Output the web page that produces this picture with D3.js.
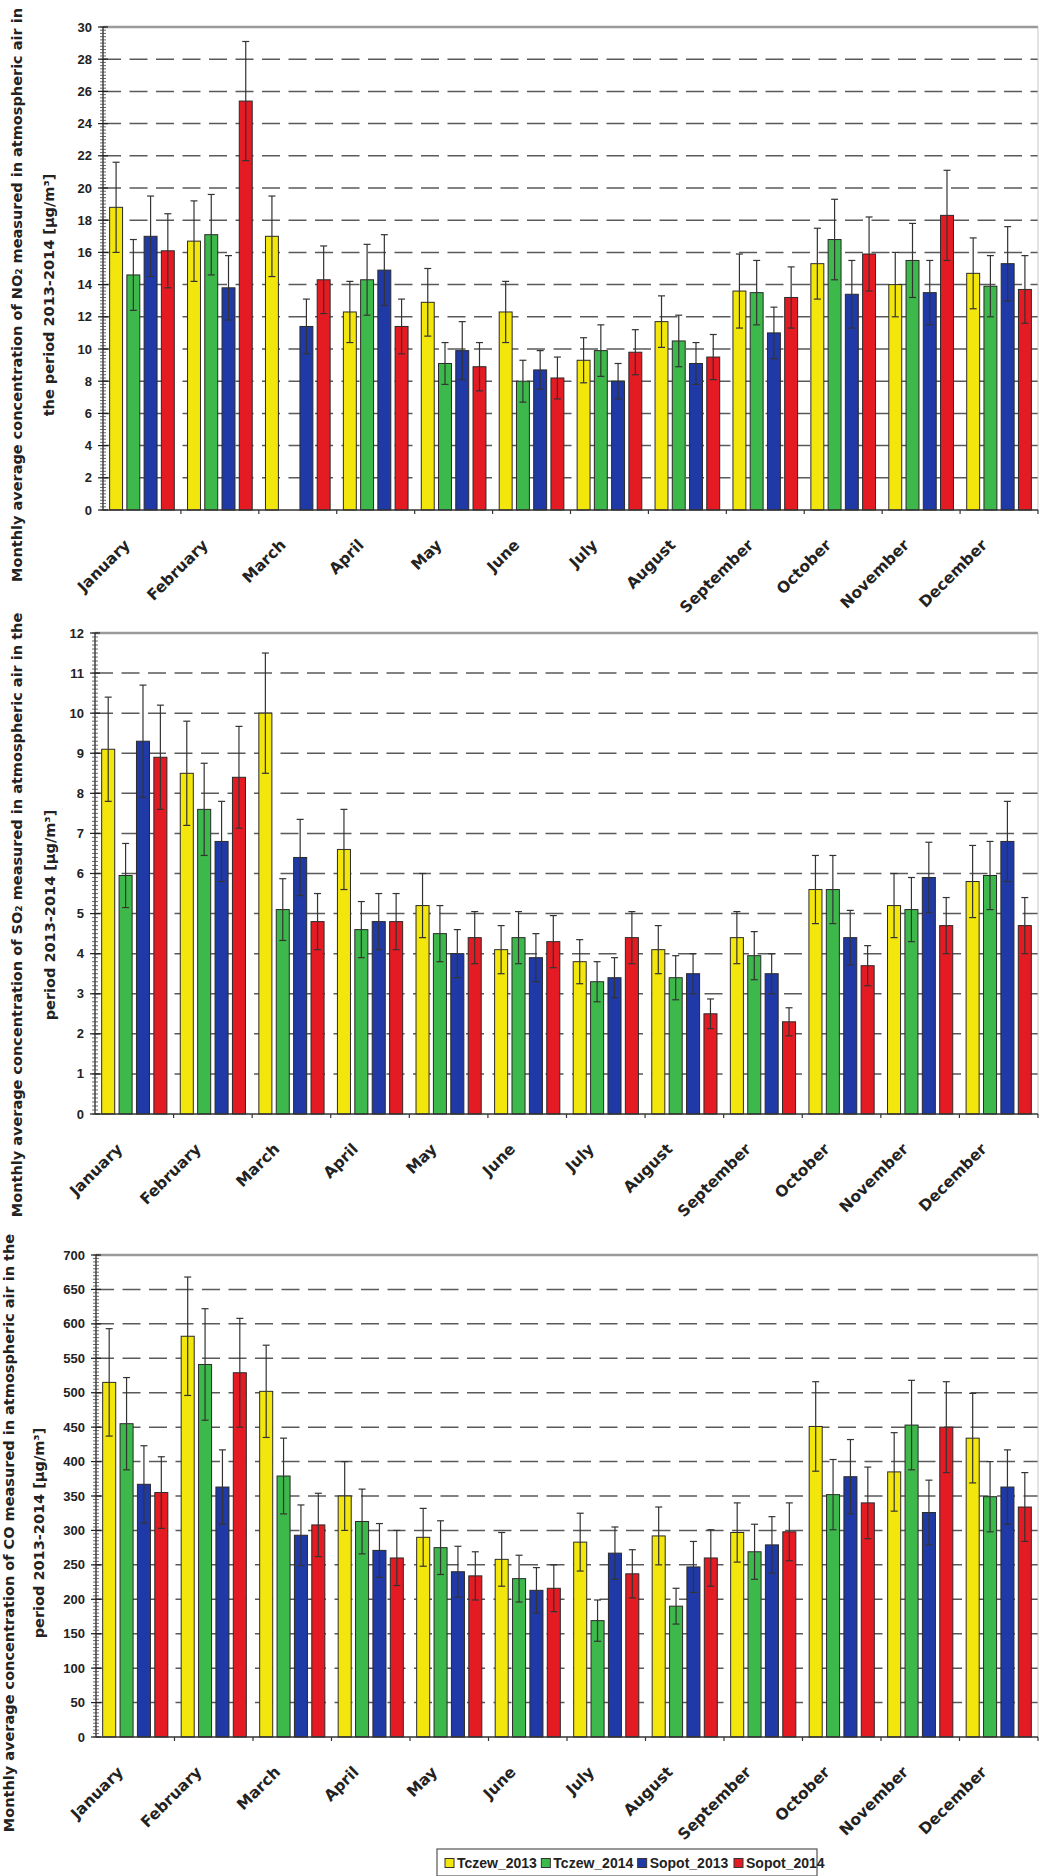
<!DOCTYPE html>
<meta charset="utf-8">
<style>
    body { margin: 0; background: #fff; }
    svg { display: block; font-family: "Liberation Sans", Arial, sans-serif; }
    .tick-label { font-size: 13px; font-weight: bold; fill: #222; }
    .month-label { font-family: "DejaVu Sans", sans-serif; font-size: 15.5px; font-weight: bold; fill: #222; }
    .y-title { font-family: "DejaVu Sans", sans-serif; font-size: 14.5px; font-weight: bold; fill: #222; }
    .legend-text { font-size: 14px; font-weight: bold; fill: #222; }
</style>
<body>
<svg id="chart" width="1040" height="1876"></svg>
<script src="https://cdn.jsdelivr.net/npm/d3@7"></script>
<script>
    // months + series
    var months = ["January", "February", "March", "April", "May", "June", "July",
        "August", "September", "October", "November", "December"];
    var seriesNames = ["Tczew_2013", "Tczew_2014", "Sopot_2013", "Sopot_2014"];
    var seriesColors = ["#f3e60c", "#3db84a", "#1f3aa6", "#e41b23"];

    // NO2 monthly means and error bars (one array per series)
    var no2Mean = [
        [18.8, 16.7, 17.0, 12.3, 12.9, 12.3, 9.3, 11.7, 13.6, 15.3, 14.0, 14.7],
        [14.6, 17.1, null, 14.3, 9.1, 8.0, 9.9, 10.5, 13.5, 16.8, 15.5, 13.9],
        [17.0, 13.8, 11.4, 14.9, 9.9, 8.7, 8.0, 9.1, 11.0, 13.4, 13.5, 15.3],
        [16.1, 25.4, 14.3, 11.4, 8.9, 8.2, 9.8, 9.5, 13.2, 15.9, 18.3, 13.7]
    ];
    var no2Err = [
        [2.8, 2.5, 2.5, 1.9, 2.1, 1.9, 1.4, 1.6, 2.3, 2.2, 2.0, 2.2],
        [2.2, 2.5, null, 2.2, 1.3, 1.3, 1.6, 1.6, 2.0, 2.5, 2.3, 1.9],
        [2.5, 2.0, 1.7, 2.2, 1.8, 1.2, 1.1, 1.3, 1.6, 2.1, 2.0, 2.3],
        [2.3, 3.7, 2.1, 1.7, 1.5, 1.3, 1.4, 1.4, 1.9, 2.3, 2.8, 2.1]
    ];

    // SO2
    var so2Mean = [
        [9.1, 8.5, 10.0, 6.6, 5.2, 4.1, 3.8, 4.1, 4.4, 5.6, 5.2, 5.8],
        [5.95, 7.6, 5.1, 4.6, 4.5, 4.4, 3.3, 3.4, 3.95, 5.6, 5.1, 5.95],
        [9.3, 6.8, 6.4, 4.8, 4.0, 3.9, 3.4, 3.5, 3.5, 4.4, 5.9, 6.8],
        [8.9, 8.4, 4.8, 4.8, 4.4, 4.3, 4.4, 2.5, 2.3, 3.7, 4.7, 4.7]
    ];
    var so2Err = [
        [1.3, 1.3, 1.5, 1.0, 0.8, 0.6, 0.55, 0.6, 0.65, 0.85, 0.8, 0.9],
        [0.8, 1.15, 0.77, 0.7, 0.7, 0.65, 0.5, 0.55, 0.6, 0.85, 0.8, 0.85],
        [1.4, 1.0, 0.95, 0.7, 0.6, 0.6, 0.5, 0.5, 0.5, 0.68, 0.88, 1.0],
        [1.3, 1.27, 0.7, 0.7, 0.65, 0.65, 0.65, 0.37, 0.35, 0.5, 0.7, 0.7]
    ];

    // CO
    var coMean = [
        [515, 582, 502, 350, 290, 258, 283, 292, 297, 451, 385, 434],
        [455, 541, 379, 313, 275, 230, 169, 190, 269, 352, 453, 349],
        [367, 363, 293, 271, 240, 213, 267, 247, 279, 378, 326, 363],
        [355, 529, 308, 260, 234, 216, 237, 260, 298, 340, 450, 334]
    ];
    var coErr = [
        [78, 86, 67, 50, 42, 39, 42, 42, 43, 65, 57, 65],
        [67, 81, 55, 47, 39, 34, 30, 26, 40, 51, 65, 51],
        [56, 54, 44, 39, 37, 33, 38, 37, 41, 54, 47, 54],
        [52, 79, 46, 40, 35, 34, 35, 41, 42, 52, 66, 50]
    ];

    var panels = [
        { mean: no2Mean, err: no2Err, max: 30, step: 2, minor: 0.2, left: 103, top: 27, bottom: 510,
          title: ["Monthly average concentration of NO\u2082 measured in atmospheric air in",
                  "the period 2013-2014 [\u03bcg/m\u00b3]"], tx: [17, 49], ty: 295 },
        { mean: so2Mean, err: so2Err, max: 12, step: 1, minor: 0.1, left: 95, top: 633, bottom: 1114,
          title: ["Monthly average concentration of SO\u2082 measured in atmospheric air in the",
                  "period 2013-2014 [\u03bcg/m\u00b3]"], tx: [17, 50], ty: 915 },
        { mean: coMean, err: coErr, max: 700, step: 50, minor: 5, left: 96, top: 1255, bottom: 1737,
          title: ["Monthly average concentration of CO measured in atmospheric air in the",
                  "period 2013-2014 [\u03bcg/m\u00b3]"], tx: [9, 39], ty: 1533 }
    ];

    var right = 1038;
    var svg = d3.select("#chart");

    panels.forEach(function (p) {
        var g = svg.append("g");
        var x0 = d3.scaleBand().domain(months).range([p.left, right])
            .paddingInner(0.17).paddingOuter(0.085);
        var x1 = d3.scaleBand().domain(d3.range(4)).range([0, x0.bandwidth()])
            .paddingInner(0.25).paddingOuter(0);
        var y = d3.scaleLinear().domain([0, p.max]).range([p.bottom, p.top]);
        var majors = d3.range(0, p.max + p.step / 2, p.step);
        var minors = d3.range(0, p.max + p.minor / 2, p.minor);

        // dashed grid
        g.selectAll(".grid").data(majors.filter(function (v) { return v > 0 && v < p.max; }))
            .enter().append("line")
            .attr("x1", p.left).attr("x2", right)
            .attr("y1", function (d) { return y(d); }).attr("y2", function (d) { return y(d); })
            .attr("stroke", "#5a5a5a").attr("stroke-width", 1.5).attr("stroke-dasharray", "18,8.5");

        // top + right frame
        g.append("line").attr("x1", p.left).attr("x2", right).attr("y1", y(p.max)).attr("y2", y(p.max))
            .attr("stroke", "#9a9a9a").attr("stroke-width", 2.5);
        g.append("line").attr("x1", right).attr("x2", right).attr("y1", y(p.max)).attr("y2", y(0))
            .attr("stroke", "#c8c8c8").attr("stroke-width", 1);

        // bars
        var cells = [];
        p.mean.forEach(function (arr, s) {
            arr.forEach(function (v, m) {
                if (v != null) cells.push({ s: s, m: m, v: v, e: p.err[s][m] });
            });
        });
        g.selectAll(".bar").data(cells).enter().append("rect")
            .attr("x", function (d) { return x0(months[d.m]) + x1(d.s); })
            .attr("width", x1.bandwidth())
            .attr("y", function (d) { return y(d.v); })
            .attr("height", function (d) { return y(0) - y(d.v); })
            .attr("fill", function (d) { return seriesColors[d.s]; })
            .attr("stroke", "#2a2a2a").attr("stroke-width", 1);

        // error bars
        var eb = g.selectAll(".err").data(cells).enter().append("g")
            .attr("transform", function (d) {
                return "translate(" + (x0(months[d.m]) + x1(d.s) + x1.bandwidth() / 2) + ",0)";
            });
        eb.append("line").attr("y1", function (d) { return y(d.v - d.e); })
            .attr("y2", function (d) { return y(d.v + d.e); })
            .attr("stroke", "#333").attr("stroke-width", 1.2);
        eb.append("line").attr("x1", -3.5).attr("x2", 3.5)
            .attr("y1", function (d) { return y(d.v + d.e); }).attr("y2", function (d) { return y(d.v + d.e); })
            .attr("stroke", "#333").attr("stroke-width", 1.2);
        eb.append("line").attr("x1", -3.5).attr("x2", 3.5)
            .attr("y1", function (d) { return y(d.v - d.e); }).attr("y2", function (d) { return y(d.v - d.e); })
            .attr("stroke", "#333").attr("stroke-width", 1.2);

        // y axis
        g.append("line").attr("x1", p.left).attr("x2", p.left).attr("y1", y(0)).attr("y2", y(p.max))
            .attr("stroke", "#222").attr("stroke-width", 1.3);
        g.selectAll(".minor").data(minors).enter().append("line")
            .attr("x1", p.left - 3).attr("x2", p.left + 3)
            .attr("y1", function (d) { return y(d); }).attr("y2", function (d) { return y(d); })
            .attr("stroke", "#444").attr("stroke-width", 0.8);
        g.selectAll(".major").data(majors).enter().append("line")
            .attr("x1", p.left - 5).attr("x2", p.left + 5)
            .attr("y1", function (d) { return y(d); }).attr("y2", function (d) { return y(d); })
            .attr("stroke", "#222").attr("stroke-width", 1.2);
        g.selectAll(".ylab").data(majors).enter().append("text")
            .attr("class", "tick-label")
            .attr("x", p.left - 11).attr("y", function (d) { return y(d); })
            .attr("dy", "0.35em").attr("text-anchor", "end")
            .text(function (d) { return d; });

        // x axis
        g.append("line").attr("x1", p.left).attr("x2", right).attr("y1", y(0)).attr("y2", y(0))
            .attr("stroke", "#333").attr("stroke-width", 1.5);
        g.selectAll(".xtick").data(months).enter().append("line")
            .attr("x1", function (d) { return x0(d) + x0.step() - x0.paddingOuter() * x0.step(); })
            .attr("x2", function (d) { return x0(d) + x0.step() - x0.paddingOuter() * x0.step(); })
            .attr("y1", y(0)).attr("y2", y(0) + 4)
            .attr("stroke", "#333").attr("stroke-width", 1.2);
        g.selectAll(".xlab").data(months).enter().append("text")
            .attr("class", "month-label")
            .attr("text-anchor", "end")
            .attr("transform", function (d) {
                return "translate(" + (x0(d) + x0.bandwidth() / 2 - 11) + "," + (y(0) + 36) + ") rotate(-45)";
            })
            .text(function (d) { return d; });

        // y title
        p.title.forEach(function (t, i) {
            svg.append("text").attr("class", "y-title")
                .attr("text-anchor", "middle")
                .attr("dominant-baseline", "central")
                .attr("transform", "translate(" + p.tx[i] + "," + p.ty + ") rotate(-90)")
                .text(t);
        });
    });

    // legend
    var lg = svg.append("g").attr("transform", "translate(437,1849)");
    lg.append("rect").attr("width", 380).attr("height", 27)
        .attr("fill", "#fff").attr("stroke", "#555").attr("stroke-width", 1.2);
    var lx = d3.scalePoint().domain(seriesNames).range([8, 297]);
    var items = lg.selectAll(".li").data(seriesNames).enter().append("g")
        .attr("transform", function (d) { return "translate(" + lx(d) + ",14)"; });
    items.append("rect").attr("x", 0).attr("y", -4.5).attr("width", 9).attr("height", 9)
        .attr("fill", function (d, i) { return seriesColors[i]; })
        .attr("stroke", "#333").attr("stroke-width", 1);
    items.append("text").attr("class", "legend-text").attr("x", 12).attr("dy", "0.36em")
        .text(function (d) { return d; });
</script>
</body>
